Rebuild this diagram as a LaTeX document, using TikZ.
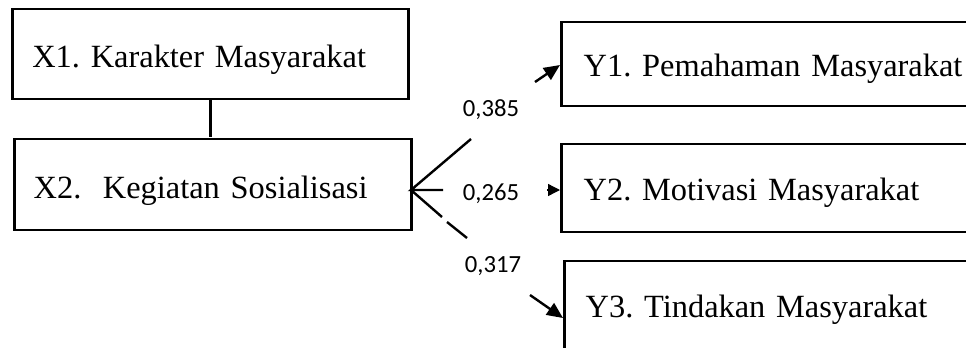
\documentclass[tikz,border=0pt]{standalone}
\usepackage{fontspec}
\setmainfont{Liberation Serif}
\newfontfamily\lblfont{Carlito}
\usetikzlibrary{arrows.meta}
\tikzset{
  box/.style={draw, line width=2pt, anchor=west, align=left, inner ysep=0pt,
    text depth=6pt, font=\fontsize{24.3}{28}\selectfont\frenchspacing},
  conn/.style={line width=1.8pt},
  arr/.style={line width=1.8pt, -{Triangle[length=12pt,width=10.5pt]}},
  lbl/.style={font=\lblfont\fontsize{18.5}{20}\selectfont, inner sep=0pt}
}
\begin{document}
\begin{tikzpicture}[x=0.75pt,y=-0.75pt]
\useasboundingbox (0,0) rectangle (966,347);
\clip (0,0) rectangle (966,347);
\node[box, inner xsep=15pt, text width=267pt, minimum height=67.5pt, text height=25.5pt] (X1) at (11,54) {X1. Karakter Masyarakat};
\node[box, inner xsep=14.5pt, text width=268.75pt, minimum height=68.25pt, text height=27.5pt] (X2) at (13,184.5) {X2.\ \ Kegiatan Sosialisasi};
\node[box, inner xsep=16.75pt, text width=450pt, minimum height=63pt, text height=24pt] (Y1) at (560,64) {Y1. Pemahaman Masyarakat};
\node[box, inner xsep=16.75pt, text width=450pt, minimum height=66pt, text height=24pt] (Y2) at (560,188) {Y2. Motivasi Masyarakat};
\node[box, inner xsep=16pt, text width=450pt, minimum height=67.5pt, text height=22.5pt] (Y3) at (563,306) {Y3. Tindakan Masyarakat};

\draw[conn] (X1.south) -- ++(0,37);

\coordinate (F) at (411,190);
\coordinate (f1) at (471,139);
\coordinate (f2) at (443,190);
\coordinate (g1) at (442,217);
\coordinate (g2) at (447,222);
\coordinate (f3) at (467,238);
\draw[conn] (f1) -- (F) -- (f2);
\draw[conn] (F) -- (g1);
\draw[conn] (g2) -- (f3);

\coordinate (a1) at (535,82);
\coordinate (a2) at (547,190);
\coordinate (a3) at (530,295);
\draw[arr] (a1) -- ([yshift=-0.75pt]Y1.west);
\draw[line width=1pt, -{Triangle[length=9pt,width=9pt]}] (a2) -- (a2 -| Y2.west);
\draw[arr] (a3) -- ([yshift=-9pt]Y3.west);

\node[lbl] (L1) at (491,110) {0,385};
\node[lbl] (L2) at (491,194) {0,265};
\node[lbl] (L3) at (493,266) {0,317};
\end{tikzpicture}
\end{document}
